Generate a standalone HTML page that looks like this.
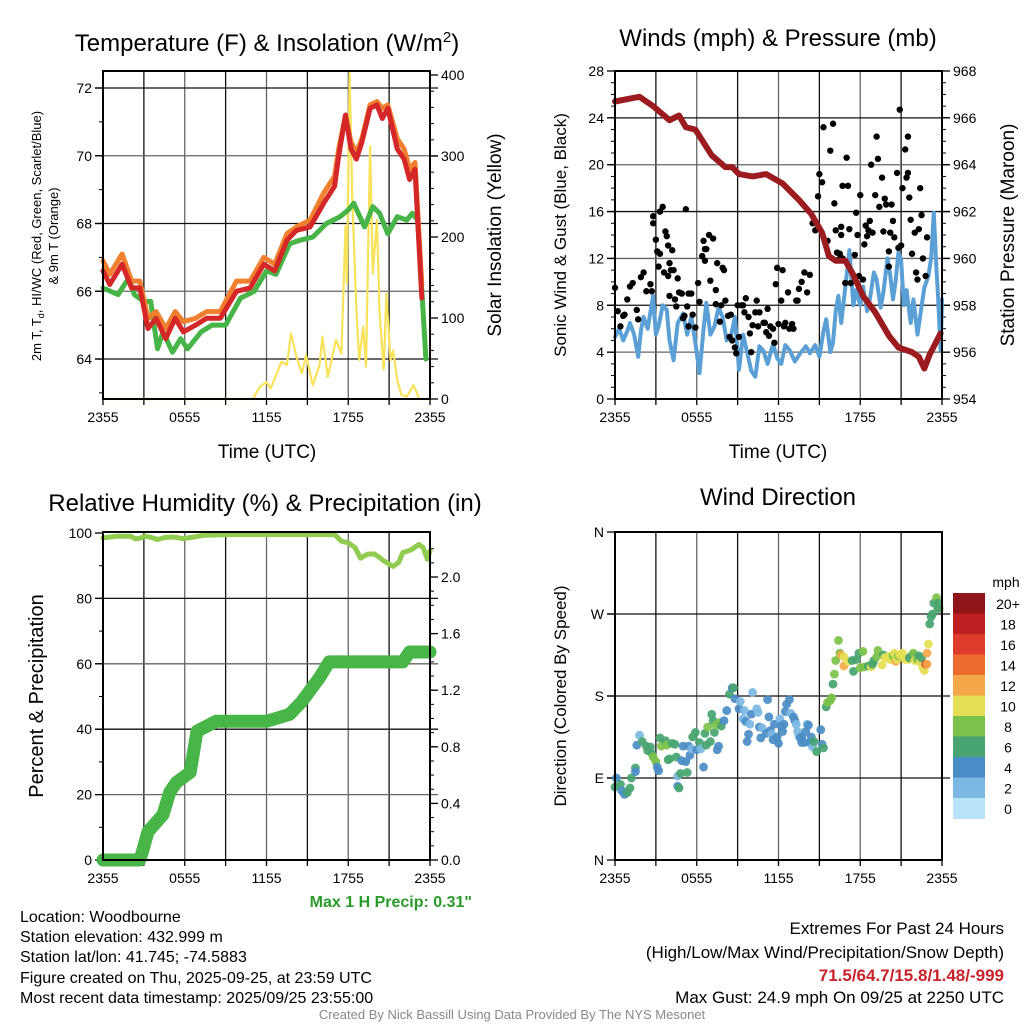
<!DOCTYPE html>
<html><head><meta charset="utf-8"><style>
html,body{margin:0;padding:0;background:#fff}
svg{display:block;font-family:"Liberation Sans",Arial,sans-serif}
</style></head><body>
<svg id="fig" width="1024" height="1024" viewBox="0 0 1024 1024" xmlns="http://www.w3.org/2000/svg">
<rect width="1024" height="1024" fill="#fff"/>
<g id="g1"></g>
<g id="g2"></g>
<g id="g3"></g>
<g id="g4"></g>

<text x="267" y="51" font-size="24" text-anchor="middle">Temperature (F) &amp; Insolation (W/m<tspan dy="-9" font-size="15">2</tspan><tspan dy="9">)</tspan></text>
<text x="778" y="46" font-size="24" text-anchor="middle">Winds (mph) &amp; Pressure (mb)</text>
<text x="265" y="511" font-size="24" text-anchor="middle">Relative Humidity (%) &amp; Precipitation (in)</text>
<text x="778" y="505" font-size="24" text-anchor="middle">Wind Direction</text>

<text x="267" y="458" font-size="19" text-anchor="middle">Time (UTC)</text>
<text x="778" y="458" font-size="19" text-anchor="middle">Time (UTC)</text>

<text transform="translate(41,236) rotate(-90)" font-size="13" text-anchor="middle">2m T, T<tspan font-size="9" dy="3">d</tspan><tspan dy="-3">, HI/WC (Red, Green, Scarlet/Blue)</tspan></text>
<text transform="translate(58,236) rotate(-90)" font-size="13" text-anchor="middle">&amp; 9m T (Orange)</text>
<text transform="translate(501,235) rotate(-90)" font-size="19" text-anchor="middle">Solar Insolation (Yellow)</text>
<text transform="translate(566,235) rotate(-90)" font-size="17" text-anchor="middle">Sonic Wind &amp; Gust (Blue, Black)</text>
<text transform="translate(1014,235) rotate(-90)" font-size="19" text-anchor="middle">Station Pressure (Maroon)</text>
<text transform="translate(43,696) rotate(-90)" font-size="20" text-anchor="middle">Percent &amp; Precipitation</text>
<text transform="translate(566,696) rotate(-90)" font-size="17" text-anchor="middle">Direction (Colored By Speed)</text>

<text x="472" y="907" font-size="16" font-weight="bold" fill="#2a9a2a" text-anchor="end">Max 1 H Precip: 0.31"</text>
<g font-size="16">
<text x="20" y="922">Location: Woodbourne</text>
<text x="20" y="942">Station elevation: 432.999 m</text>
<text x="20" y="962">Station lat/lon: 41.745; -74.5883</text>
<text x="20" y="983">Figure created on Thu, 2025-09-25, at 23:59 UTC</text>
<text x="20" y="1003">Most recent data timestamp: 2025/09/25 23:55:00</text>
</g>
<g font-size="17" text-anchor="end">
<text x="1004" y="934">Extremes For Past 24 Hours</text>
<text x="1004" y="958">(High/Low/Max Wind/Precipitation/Snow Depth)</text>
<text x="1004" y="981" font-weight="bold" fill="#c8222a">71.5/64.7/15.8/1.48/-999</text>
<text x="1004" y="1003">Max Gust: 24.9 mph On 09/25 at 2250 UTC</text>
</g>
<text x="512" y="1019" font-size="13" fill="#888" text-anchor="middle">Created By Nick Bassill Using Data Provided By The NYS Mesonet</text>
</svg>
<script>
// ---- Data (hours since 2355 UTC) ----
const xTickLabels = ["2355","0555","1155","1755","2355"];
const tempRedH = [0,0.5,1.4,2.1,2.7,3.3,3.9,4.6,5.3,5.9,6.8,7.6,8.6,9.8,10.8,11.8,12.6,13.5,14.2,15.2,16.2,17.0,17.3,17.8,18.2,18.6,19.0,19.6,20.1,20.5,20.9,21.6,22.1,22.5,22.9,23.4];
const tempRedV = [66.6,66.2,66.8,66.1,66.1,64.9,65.2,64.6,65.2,64.8,65.0,65.2,65.2,66.0,66.1,66.8,66.6,67.5,67.8,67.9,68.6,69.1,70.0,71.2,70.2,69.9,70.4,71.4,71.5,71.1,71.4,70.2,69.9,69.3,69.6,65.8];
const tempOrangeV = [66.9,66.5,67.1,66.3,66.3,65.2,65.4,64.9,65.4,65.1,65.2,65.4,65.4,66.3,66.3,67.0,66.8,67.7,67.9,68.1,68.9,69.4,70.2,71.2,70.4,70.1,70.5,71.5,71.6,71.4,71.5,70.5,70.2,69.6,69.8,66.2];
const tempGreenH = [0,1.1,1.9,2.3,3.0,3.5,4.0,4.4,5.1,5.7,6.2,7.2,8.0,9.0,10.1,11.1,12.0,12.7,13.7,14.4,15.4,16.4,17.4,18.0,18.4,19.2,19.8,20.3,20.9,21.6,22.3,22.7,23.1,23.7];
const tempGreenV = [66.1,65.9,66.4,65.9,65.7,65.7,64.3,64.8,64.2,64.6,64.3,64.8,65.0,65.0,65.8,66.0,66.6,66.5,67.4,67.5,67.6,68.0,68.2,68.4,68.6,67.9,68.5,68.3,67.7,68.2,68.1,68.3,68.1,64.0];
const solarH = [0,11.0,11.5,12.0,12.3,13.1,13.5,13.8,14.2,14.6,14.9,15.4,15.9,16.1,16.5,17.1,17.5,17.8,17.9,18.1,18.3,18.6,18.8,19.1,19.3,19.6,19.8,20.1,20.3,20.6,20.8,21.1,21.3,21.6,21.9,22.3,22.8,23.2,24.0];
const solarV = [0,0,15,21,13,46,42,81,52,32,54,17,42,77,27,73,56,213,143,402,246,110,48,89,40,312,155,221,106,36,130,48,60,23,5,3,17,0,0];

const windH = [0,0.3,0.6,0.9,1.1,1.4,1.7,1.9,2.1,2.4,2.8,3.0,3.2,3.5,3.8,4.0,4.3,4.6,5.0,5.3,5.6,5.9,6.2,6.5,6.7,7.0,7.3,7.6,7.9,8.2,8.5,8.8,9.1,9.4,9.6,10.0,10.3,10.6,10.9,11.2,11.6,11.9,12.2,12.5,12.8,13.2,13.6,14.0,14.3,14.7,15.0,15.3,15.5,15.8,16.0,16.2,16.4,16.6,16.8,17.0,17.2,17.5,17.7,18.0,18.2,18.5,18.7,19.0,19.2,19.5,19.7,20.0,20.2,20.4,20.6,20.8,21.0,21.2,21.4,21.7,21.9,22.2,22.4,22.7,23.0,23.2,23.4,23.6,23.7,23.9,24.0];
const windV = [5.3,6.0,5.0,5.8,6.5,5.5,3.6,5.8,7.0,6.0,8.8,5.5,6.2,8.0,7.6,5.0,3.3,6.5,7.3,5.5,7.0,4.8,2.2,6.0,8.2,5.5,6.2,7.8,7.0,5.0,5.3,7.0,2.5,5.5,4.5,2.4,1.9,4.5,4.1,3.0,4.7,3.5,3.0,4.6,4.2,3.2,3.9,4.5,3.9,4.6,3.6,5.8,6.8,4.0,4.8,7.5,8.8,6.5,8.5,10.5,12.7,8.0,9.3,8.0,9.6,7.5,8.5,10.8,10.2,7.8,9.1,12.0,10.6,8.5,10.1,12.5,11.9,8.0,9.3,6.5,8.5,5.5,7.1,9.5,10.5,12.0,15.9,11.0,9.0,4.2,8.5];
const presH = [0,1.8,2.8,4.0,4.7,5.2,5.9,7.1,8.1,8.6,9.1,10.1,11.1,12.3,13.5,14.4,15.2,15.7,16.2,16.9,17.4,18.2,19.1,20.1,20.8,21.8,22.3,22.7,23.1,23.9];
const presV = [966.7,966.9,966.5,965.9,966.1,965.6,965.5,964.4,963.9,963.9,963.6,963.5,963.6,963.2,962.5,961.9,961.1,960.1,959.9,959.9,959.4,958.4,957.7,956.7,956.2,956.0,955.8,955.3,955.9,956.8];
const gustH = [0,0.2,0.4,0.6,0.7,0.9,1.1,1.3,1.6,1.7,1.9,2.1,2.3,2.6,2.7,2.8,2.8,3.0,3.1,3.2,3.3,3.3,3.5,3.6,3.7,3.8,3.9,3.9,4.0,4.0,4.1,4.2,4.3,4.4,4.5,4.6,4.7,4.9,5.0,5.1,5.2,5.3,5.4,5.4,5.6,5.7,5.9,6.1,6.2,6.4,6.5,6.6,6.6,6.7,6.9,7.0,7.2,7.4,7.4,7.5,7.7,7.8,7.9,8.0,8.1,8.3,8.4,8.5,8.6,8.8,8.9,9.0,9.1,9.3,9.4,9.5,9.6,9.8,9.9,10.0,10.1,10.3,10.4,10.5,10.6,10.9,11.0,11.1,11.2,11.3,11.4,11.6,11.7,11.8,11.9,12.0,12.2,12.3,12.4,12.5,12.7,12.8,13.0,13.1,13.3,13.4,13.5,13.7,13.9,14.1,14.3,14.5,14.6,14.7,14.9,15.0,15.2,15.3,15.6,15.8,16.0,16.1,16.2,16.3,16.4,16.5,16.6,16.6,16.7,16.7,16.9,17.0,17.1,17.2,17.3,17.6,17.7,17.8,17.9,18.0,18.2,18.3,18.4,18.5,18.6,18.7,18.8,18.9,19.1,19.2,19.3,19.4,19.6,19.7,19.8,19.9,20.1,20.1,20.2,20.3,20.4,20.5,20.7,20.8,20.9,21.0,21.1,21.3,21.4,21.5,21.5,21.6,21.7,21.8,22.0,22.1,22.2,22.3,22.4,22.5,22.6,22.8,22.9,23.0,23.2,23.3,23.3,23.4,23.6,23.8,24.0];
const gustV = [9.5,7.5,6.2,7.1,7.2,8.5,9.6,9.9,7.6,6.8,10.4,10.8,9.2,9.8,9.2,15.0,15.6,13.6,12.6,11.3,12.4,16.0,16.4,10.8,14.3,13.9,13.1,10.5,11.6,8.8,11.0,12.7,11.0,8.5,7.9,10.3,9.1,9.0,6.9,7.1,16.2,7.9,6.2,9.0,9.0,7.2,6.1,9.9,8.3,12.2,13.5,12.8,11.8,12.8,14.0,10.1,13.7,8.1,9.3,11.6,6.6,8.0,11.2,11.0,8.4,7.1,5.3,7.2,5.0,4.4,3.9,8.0,5.3,8.0,8.0,7.4,8.6,7.0,5.6,4.0,6.3,7.4,8.4,6.2,7.4,6.5,6.5,5.7,7.7,5.4,6.2,6.0,4.8,9.8,11.2,6.4,8.4,11.0,6.2,6.5,9.1,6.0,6.4,6.0,8.4,8.4,9.4,10.0,10.8,9.1,10.6,15.0,15.1,14.4,17.3,19.2,18.5,23.2,13.5,21.2,23.5,16.7,14.4,12.5,11.9,12.4,14.0,14.7,12.0,18.2,9.9,20.6,18.2,14.5,9.9,12.3,15.9,14.0,10.5,17.4,10.2,13.2,14.8,13.9,14.4,15.2,20.0,14.2,17.4,22.4,20.5,16.4,18.9,14.3,17.1,16.6,11.3,12.6,14.2,16.6,15.2,13.8,19.3,12.9,24.7,13.1,18.0,21.3,18.9,22.4,19.3,17.2,15.3,12.4,14.2,10.8,10.2,14.5,18.0,15.7,12.0,10.5,13.8];

const rhH = [0,1.0,2.0,2.4,2.7,3.1,3.5,4.0,4.5,5.2,5.8,6.4,7.4,9.1,12,15,17.0,17.5,18.0,18.5,18.9,19.4,19.9,20.3,20.6,21.0,21.3,21.7,22.0,22.6,23.2,23.5,23.8,24.0];
const rhV = [98.5,99.0,99.0,98.2,98.4,99.0,98.7,98.0,98.6,98.8,98.3,98.6,99.3,99.5,99.5,99.5,99.5,97.5,97.0,95.5,92.3,93.5,93.6,92.5,91.5,90.5,89.8,91.0,94.0,94.8,96.5,95.5,92.0,94.5];
const precipH = [0,2.7,2.9,3.3,4.4,4.9,5.4,6.4,6.9,8.3,12.0,13.7,14.6,15.9,16.6,22.0,22.5,24.0];
const precipV = [0,0,0.06,0.2,0.32,0.48,0.55,0.62,0.91,0.98,0.98,1.03,1.12,1.29,1.40,1.40,1.47,1.47];

const dirH = [0,0.1,0.4,0.5,0.7,0.9,1.1,1.2,1.5,1.5,1.6,1.8,2.0,2.3,2.4,2.6,2.7,2.8,3.0,3.1,3.2,3.3,3.4,3.7,3.8,3.9,4.0,4.2,4.4,4.5,4.6,4.6,4.7,4.8,4.9,5.0,5.2,5.3,5.4,5.5,5.6,5.7,5.9,6.0,6.2,6.3,6.5,6.6,6.7,6.8,7.0,7.1,7.2,7.3,7.4,7.5,7.6,7.7,7.8,8.0,8.2,8.4,8.6,8.7,8.8,9.1,9.2,9.4,9.5,9.6,9.7,9.8,9.9,10.0,10.1,10.4,10.5,10.6,10.7,10.8,11.1,11.2,11.3,11.4,11.5,11.6,11.7,11.9,12.0,12.1,12.2,12.3,12.4,12.5,12.6,12.8,12.9,13.1,13.2,13.3,13.4,13.5,13.6,13.7,13.7,13.9,14.0,14.1,14.2,14.3,14.4,14.4,14.5,14.6,14.8,15.1,15.2,15.3,15.5,15.6,15.8,15.9,16.0,16.1,16.2,16.4,16.5,16.6,16.8,16.8,17.1,17.4,17.5,17.7,17.9,18.0,18.2,18.3,18.6,18.8,18.9,19.0,19.2,19.3,19.6,19.7,19.8,20.0,20.1,20.2,20.3,20.4,20.5,20.6,20.7,20.8,20.9,21.0,21.1,21.3,21.5,21.6,21.8,21.9,22.0,22.2,22.3,22.4,22.5,22.6,22.7,22.8,22.9,22.9,23.0,23.1,23.2,23.3,23.4,23.6,23.7,23.8,23.7];
const dirV = [80,90,83,76,72,74,79,90,101,97,126,137,130,125,120,124,117,113,108,102,98,134,125,131,126,110,111,128,127,113,92,81,79,95,109,125,108,96,125,115,122,135,140,121,129,122,102,139,126,146,130,160,153,140,148,121,125,151,147,153,164,182,189,189,177,166,174,155,164,152,130,138,149,160,184,166,162,146,134,145,139,176,157,142,138,132,149,135,128,155,147,141,149,163,171,176,161,157,153,149,141,136,134,129,135,129,141,149,148,129,135,129,124,130,119,143,127,123,168,173,175,178,193,204,219,241,227,225,223,213,218,219,207,220,227,211,229,212,213,212,215,219,223,230,214,225,222,223,221,220,224,224,227,218,220,224,225,226,227,220,220,222,225,227,219,220,224,217,222,211,208,215,215,227,237,259,267,270,282,288,282,276,276,279,268];
const dirSpd = [6,4,6,4,4,6,6,6,6,4,4,2,6,6,6,6,6,8,8,4,4,6,8,6,8,6,6,6,6,6,2,4,6,6,4,4,4,6,4,4,2,6,6,4,6,2,4,6,6,8,6,6,6,6,8,4,4,8,6,4,4,6,4,6,4,4,2,2,2,4,4,4,2,4,2,2,2,4,4,2,4,4,4,4,2,4,4,4,4,2,4,4,4,4,4,4,2,4,4,2,2,2,4,4,4,4,4,2,4,4,4,4,2,6,6,4,4,6,6,8,8,8,6,8,8,8,8,12,10,12,10,6,6,6,6,8,8,8,6,10,6,6,8,8,10,6,10,10,10,10,10,8,10,12,10,8,10,10,10,10,10,6,6,8,10,8,6,10,6,10,10,16,12,12,10,6,6,6,6,8,6,8,6];

const speedBins = [0,2,4,6,8,10,12,14,16,18,20];
const speedLabels = ["0","2","4","6","8","10","12","14","16","18","20+"];
const speedColors = ["#b9e3f8","#7cb8e4","#4a8dc6","#48a470","#7cc24a","#e5df55","#f5a74a","#ee6b2f","#dd3b2b","#bd1f22","#8f1519"];
const dirLabels = ["N","E","S","W","N"];

// ---- Helpers ----
const NS = "http://www.w3.org/2000/svg";
function mk(parent, tag, attrs) {
  const e = document.createElementNS(NS, tag);
  for (const k in attrs) e.setAttribute(k, attrs[k]);
  parent.appendChild(e);
  return e;
}
function lin(d0, d1, r0, r1) { return v => r0 + (v - d0) * (r1 - r0) / (d1 - d0); }

function frame(g, L, R, T, B) {
  const hx = lin(0, 24, L, R);
  for (let h = 3; h < 24; h += 3) {
    const gl = mk(g, "line", {x1: hx(h), x2: hx(h), y1: T, y2: B, stroke: (h % 6 === 0) ? "#666" : "#111", "stroke-width": 1.3});
    
    
  }
  for (let h = 0; h <= 24; h += 3) {
    const tk = mk(g, "line", {x1: hx(h), x2: hx(h), y1: B, y2: B + 6, stroke: "#000", "stroke-width": 1.3});
    
    
  }
  xTickLabels.forEach((t, i) => {
    const tx = mk(g, "text", {x: hx(i * 6), y: B + 23, "font-size": 14, "text-anchor": "middle"});
    tx.textContent = t;
    
    
  });
  return hx;
}
function border(g, L, R, T, B) {
  const r = mk(g, "rect", {x: L, y: T, width: R - L, height: B - T, fill: "none", stroke: "#000", "stroke-width": 2});
  
  
}
function hgrid(g, L, R, y, col) {
  const l = mk(g, "line", {x1: L - 8, x2: R + 8, y1: y, y2: y, stroke: col || "#111", "stroke-width": 1.3});
  
  
}
function leftAxis(g, L, ys, vals, labels, minorYs) {
  minorYs.forEach(y => {
    const m = mk(g, "line", {x1: L - 4, x2: L, y1: y, y2: y, stroke: "#000", "stroke-width": 1});
    
    
  });
  vals.forEach((v, i) => {
    const y = ys(v);
    const t = mk(g, "line", {x1: L - 8, x2: L, y1: y, y2: y, stroke: "#000", "stroke-width": 1.3});
    
    
    const tx = mk(g, "text", {x: L - 11, y: y + 5, "font-size": 14, "text-anchor": "end"});
    tx.textContent = labels[i];
    
    
  });
}
function rightAxis(g, R, ys, vals, labels, minorYs) {
  minorYs.forEach(y => {
    const m = mk(g, "line", {x1: R, x2: R + 4, y1: y, y2: y, stroke: "#000", "stroke-width": 1});
    
    
  });
  vals.forEach((v, i) => {
    const y = ys(v);
    const t = mk(g, "line", {x1: R, x2: R + 8, y1: y, y2: y, stroke: "#000", "stroke-width": 1.3});
    
    
    const tx = mk(g, "text", {x: R + 11, y: y + 5, "font-size": 14});
    tx.textContent = labels[i];
    
    
  });
}
function poly(g, xs, ys, hx, sy, color, w, name) {
  const n = Math.min(xs.length, ys.length);
  const pts = [];
  for (let i = 0; i < n; i++) pts.push(hx(xs[i]).toFixed(1) + "," + sy(ys[i]).toFixed(1));
  const p = mk(g, "polyline", {points: pts.join(" "), fill: "none", stroke: color, "stroke-width": w, "stroke-linejoin": "round", "stroke-linecap": "round"});
  
  
  return p;
}

// ---- Panel 1: temperature ----
(function () {
  const g = document.getElementById("g1");
  const L = 103, R = 430, T = 71, B = 399;
  const ty = lin(64, 72, 359, 88), sy = lin(0, 400, 399, 75);
  const hx = frame(g, L, R, T, B);
  [64, 66, 68, 70, 72].forEach(v => hgrid(g, L, R, ty(v), (v % 4 === 0) ? "#111" : "#666"));
  const minors = []; for (let v = 63; v <= 72; v += 1) minors.push(ty(v));
  leftAxis(g, L, ty, [64, 66, 68, 70, 72], ["64", "66", "68", "70", "72"], minors);
  const rmin = []; for (let v = 0; v <= 400; v += 20) rmin.push(sy(v));
  rightAxis(g, R, sy, [0, 100, 200, 300, 400], ["0", "100", "200", "300", "400"], rmin);
  poly(g, solarH, solarV, hx, sy, "#f8e25a", 2.2, "solar-insolation-line");
  poly(g, tempGreenH, tempGreenV, hx, ty, "#46b446", 5, "dewpoint-line");
  poly(g, tempRedH, tempOrangeV, hx, ty, "#f07f2e", 5, "temp-9m-line");
  poly(g, tempRedH, tempRedV, hx, ty, "#d62728", 5, "temp-2m-line");
  border(g, L, R, T, B);
})();

// ---- Panel 2: winds ----
(function () {
  const g = document.getElementById("g2");
  const L = 615, R = 942, T = 71, B = 399;
  const wy = lin(0, 28, 399, 71), py = lin(954, 968, 399, 71);
  const hx = frame(g, L, R, T, B);
  [4, 8, 12, 16, 20, 24].forEach(v => hgrid(g, L, R, wy(v), (v % 8 === 0) ? "#111" : "#666"));
  const minors = []; for (let v = 0; v <= 28; v += 1) minors.push(wy(v));
  leftAxis(g, L, wy, [0, 4, 8, 12, 16, 20, 24, 28], ["0", "4", "8", "12", "16", "20", "24", "28"], minors);
  const rmin = []; for (let v = 954; v <= 968; v += 0.5) rmin.push(py(v));
  rightAxis(g, R, py, [954, 956, 958, 960, 962, 964, 966, 968], ["954", "956", "958", "960", "962", "964", "966", "968"], rmin);
  poly(g, windH, windV, hx, wy, "#5a9fd6", 4, "sonic-wind-line");
  const n = Math.min(gustH.length, gustV.length);
  for (let i = 0; i < n; i++) {
    const c = mk(g, "circle", {cx: hx(gustH[i]), cy: wy(gustV[i]), r: 3.2, fill: "#000"});
    
    
  }
  poly(g, presH, presV, hx, py, "#9b1b1f", 6, "pressure-line");
  border(g, L, R, T, B);
})();

// ---- Panel 3: humidity & precipitation ----
(function () {
  const g = document.getElementById("g3");
  const L = 103, R = 430, T = 532, B = 860;
  const ry = lin(0, 100, 860, 533), py = lin(0, 2.0, 860, 577);
  const hx = frame(g, L, R, T, B);
  [20, 40, 60, 80].forEach(v => hgrid(g, L, R, ry(v), (v % 40 === 0) ? "#111" : "#666"));
  const minors = []; for (let v = 0; v <= 100; v += 10) minors.push(ry(v));
  leftAxis(g, L, ry, [0, 20, 40, 60, 80, 100], ["0", "20", "40", "60", "80", "100"], minors);
  const rmin = []; for (let v = 0; v <= 2.3; v += 0.1) rmin.push(py(v));
  rightAxis(g, R, py, [0, 0.4, 0.8, 1.2, 1.6, 2.0], ["0.0", "0.4", "0.8", "1.2", "1.6", "2.0"], rmin);
  poly(g, rhH, rhV, hx, ry, "#8fcc50", 5, "relative-humidity-line");
  poly(g, precipH, precipV, hx, py, "#48b548", 13, "precipitation-line");
  border(g, L, R, T, B);
})();

// ---- Panel 4: wind direction ----
(function () {
  const g = document.getElementById("g4");
  const L = 615, R = 942, T = 532, B = 860;
  const dy = lin(0, 360, 860, 532);
  const hx = frame(g, L, R, T, B);
  [90, 180, 270].forEach(v => hgrid(g, L, R, dy(v), "#111"));
  leftAxis(g, L, dy, [0, 90, 180, 270, 360], dirLabels, []);
  const n = Math.min(dirH.length, dirV.length, dirSpd.length);
  for (let i = 0; i < n; i++) {
    let k = 0; speedBins.forEach((b, j) => { if (dirSpd[i] >= b) k = j; });
    const c = mk(g, "circle", {cx: hx(dirH[i]), cy: dy(dirV[i]), r: 4.4, fill: speedColors[k], "fill-opacity": 0.92});
    
    
  }
  border(g, L, R, T, B);
  const cbX = 953, cbW = 32, cbTop = 593, cbH = 20.5;
  const tl = mk(g, "text", {x: 1006, y: 587, "font-size": 14, "text-anchor": "middle"});
  tl.textContent = "mph";
  
  
  speedColors.slice().reverse().forEach((col, i) => {
    const r = mk(g, "rect", {x: cbX, y: cbTop + i * cbH, width: cbW, height: cbH + 0.5, fill: col});
    
    
    const t = mk(g, "text", {x: 1008, y: cbTop + i * cbH + 16, "font-size": 14, "text-anchor": "middle"});
    t.textContent = speedLabels[speedLabels.length - 1 - i];
    
    
  });
})();
</script>
</body></html>
